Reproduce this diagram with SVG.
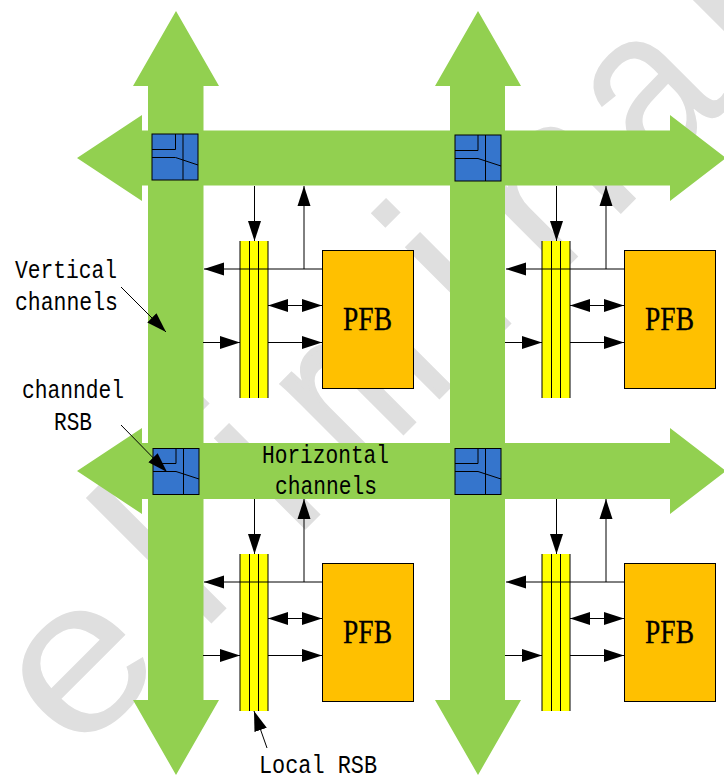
<svg xmlns="http://www.w3.org/2000/svg" xmlns:xlink="http://www.w3.org/1999/xlink" width="724" height="777" viewBox="0 0 724 777">
<style>
.wm{font-family:"Liberation Sans",Arial,sans-serif;font-size:245px;fill:#dfdfdf;stroke:#dfdfdf}
.ch{fill:#92d050}
.rsb{fill:#3575cc;stroke:#000;stroke-width:1}
.rsbl{fill:none;stroke:#000;stroke-width:1}
.y{fill:#ffff00}
.yl{stroke:#000;stroke-width:1}
.pfb{fill:#ffc000;stroke:#000;stroke-width:1}
.pt{font-family:"Liberation Serif","Times New Roman",serif;font-size:34px;fill:#000;stroke:#000;stroke-width:.3}
.lb{font-family:"Liberation Mono","Courier New",monospace;font-size:25px;fill:#000}
.c{stroke:#000;stroke-width:1;fill:none}
</style>
<defs>
<marker id="a" markerUnits="userSpaceOnUse" markerWidth="20" markerHeight="14" refX="20" refY="7" orient="auto-start-reverse"><path d="M0,0.5L20,7L0,13.5z" fill="#000"/></marker>
<g id="local"><rect class="y" x="240" y="241" width="28" height="157"/><path class="yl" d="M240 241V398M249.500 241V398M258.500 241V398M268 241V398"/></g>
<g id="pf"><rect class="pfb" x="322.500" y="250.500" width="91" height="138"/><text class="pt" x="343" y="330" textLength="49" lengthAdjust="spacingAndGlyphs">PFB</text></g>
<g id="conn"><path class="c" d="M254.500 186V241" marker-end="url(#a)"/><path class="c" d="M304 269V186" marker-end="url(#a)"/><path class="c" d="M322 269H204" marker-end="url(#a)"/><path class="c" d="M268 305.500H322" marker-start="url(#a)" marker-end="url(#a)"/><path class="c" d="M203 342.500H240" marker-end="url(#a)"/><path class="c" d="M268 342.500H322" marker-end="url(#a)"/></g>
</defs>
<g id="watermark">
<text class="wm" stroke-width="0" transform="rotate(-45) translate(-483,590.400) scale(.98,.88)">e</text>
<text class="wm" stroke-width="0" transform="rotate(-45) translate(-308,590.400)">l</text>
<text class="wm" stroke-width="0" transform="rotate(-45) translate(-175,590.400)">i</text>
<text class="wm" stroke-width="6" transform="rotate(-45) translate(-83,590.400) scale(.68,.92)">m</text>
<text class="wm" stroke-width="0" transform="rotate(-45) translate(95,590.400)">i</text>
<text class="wm" stroke-width="0" transform="rotate(-45) translate(189,590.400) scale(1,.92)">n</text>
<text class="wm" stroke-width="0" transform="rotate(-45) translate(337,590.400) scale(.8,.92)">a</text>
<text class="wm" stroke-width="0" transform="rotate(-45) translate(473,590.400) scale(1,.92)">r</text>
</g>
<g id="v-channel-1"><path class="ch" d="M176 11L219 86H203.500V700H219L176 775L133 700H148V86H133z"/></g>
<g id="v-channel-2"><path class="ch" d="M478 11L521 86H505V700H521L478 775L435 700H450V86H435z"/></g>
<g id="h-channel-1"><path class="ch" d="M77 158L142 115V130.500H670V115L726 158L670 201V185.500H142V201z"/></g>
<g id="h-channel-2"><path class="ch" d="M77 471L142 428V443H670V428L726 471L670 514V499H142V514z"/></g>
<g id="rsb-tl"><rect class="rsb" x="152" y="134" width="46" height="46"/><path class="rsbl" d="M152 149.500H175.500V134M183 134V180M152 157.500H175.500L198 165"/></g>
<g id="rsb-tr"><rect class="rsb" x="455" y="135" width="46" height="46"/><path class="rsbl" d="M455 150.500H478V135M485.500 135V181M455 158.500H478L501 166"/></g>
<g id="rsb-bl"><rect class="rsb" x="153" y="448.500" width="46" height="46"/><path class="rsbl" d="M153 463.500H176V448.500M183.500 448.500V494.500M153 471.500H176L199 479"/></g>
<g id="rsb-br"><rect class="rsb" x="455" y="448.500" width="46" height="46"/><path class="rsbl" d="M455 463.500H478V448.500M485.500 448.500V494.500M455 471.500H478L501 479"/></g>
<g id="local-rsb-tl"><use xlink:href="#local" href="#local"/></g>
<g id="local-rsb-tr"><use xlink:href="#local" href="#local" x="302"/></g>
<g id="local-rsb-bl"><use xlink:href="#local" href="#local" y="313"/></g>
<g id="local-rsb-br"><use xlink:href="#local" href="#local" x="302" y="313"/></g>
<g id="pfb-tl"><use xlink:href="#pf" href="#pf"/></g>
<g id="pfb-tr"><use xlink:href="#pf" href="#pf" x="302"/></g>
<g id="pfb-bl"><use xlink:href="#pf" href="#pf" y="313"/></g>
<g id="pfb-br"><use xlink:href="#pf" href="#pf" x="302" y="313"/></g>
<g id="connectors">
<use xlink:href="#conn" href="#conn"/>
<use xlink:href="#conn" href="#conn" x="302"/>
<use xlink:href="#conn" href="#conn" y="313"/>
<use xlink:href="#conn" href="#conn" x="302" y="313"/>
<path class="c" d="M121 287L166 332" marker-end="url(#a)"/>
<path class="c" d="M121 425L167 472" marker-end="url(#a)"/>
<path class="c" d="M267 748L254 711" marker-end="url(#a)"/>
</g>
<g id="labels">
<text class="lb" x="15" y="278" textLength="102" lengthAdjust="spacingAndGlyphs">Vertical</text>
<text class="lb" x="15" y="310" textLength="103" lengthAdjust="spacingAndGlyphs">channels</text>
<text class="lb" x="22" y="398" textLength="102" lengthAdjust="spacingAndGlyphs">channdel</text>
<text class="lb" x="54" y="430" textLength="38" lengthAdjust="spacingAndGlyphs">RSB</text>
<text class="lb" x="262" y="463" textLength="127" lengthAdjust="spacingAndGlyphs">Horizontal</text>
<text class="lb" x="275" y="494" textLength="102" lengthAdjust="spacingAndGlyphs">channels</text>
<text class="lb" x="259" y="773" textLength="118" lengthAdjust="spacingAndGlyphs">Local RSB</text>
</g>
</svg>
